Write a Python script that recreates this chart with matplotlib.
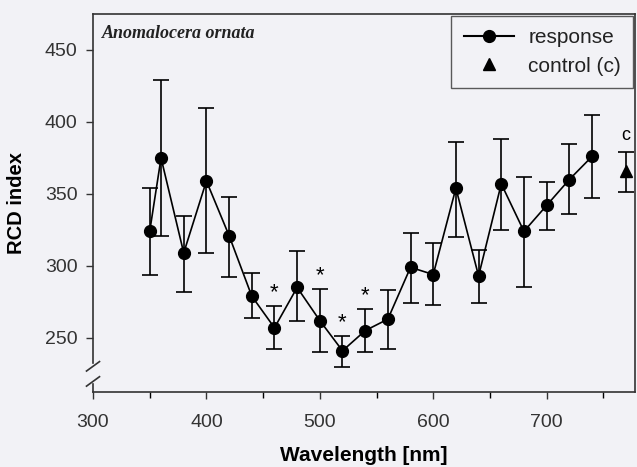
import numpy as np
import matplotlib
matplotlib.use('Agg')
import matplotlib.pyplot as plt
import matplotlib.ticker as ticker
from matplotlib.lines import Line2D

# response data
wavelength = [350, 360, 380, 400, 420, 440, 460, 480, 500, 520, 540,
              560, 580, 600, 620, 640, 660, 680, 700, 720, 740]
rcd = [324, 375, 309, 359, 321, 279, 257, 285, 262, 241, 255,
       263, 299, 294, 354, 293, 357, 324, 342, 360, 376]
err_hi = [354, 429, 335, 410, 348, 295, 272, 310, 284, 251, 270,
          283, 323, 316, 386, 311, 388, 362, 358, 385, 405]
err_lo = [294, 321, 282, 309, 292, 264, 242, 262, 240, 230, 240,
          242, 274, 273, 320, 274, 325, 285, 325, 336, 347]
signif = [460, 500, 520, 540]

ctrl_x = 770
ctrl_y = 366
ctrl_hi = 379
ctrl_lo = 351

plt.rcParams['font.family'] = ['Liberation Sans', 'DejaVu Sans']
bg = '#f2f2f6'
ink = '#222222'

fig = plt.figure(figsize=(6.37, 4.67), dpi=100, facecolor=bg)
ax = fig.add_axes([0.146, 0.161, 0.851, 0.809])
ax.set_facecolor(bg)

rcd = np.array(rcd)
yerr = [rcd - np.array(err_lo), np.array(err_hi) - rcd]
ax.errorbar(wavelength, rcd, yerr=yerr, fmt='-o', color='black',
            ms=8.5, lw=1.2, elinewidth=1.2, capsize=6, capthick=1.2)
ax.errorbar([ctrl_x], [ctrl_y], yerr=[[ctrl_y - ctrl_lo], [ctrl_hi - ctrl_y]],
            fmt='^', color='black', ms=8, elinewidth=1.2, capsize=6,
            capthick=1.2)
ax.text(ctrl_x, ctrl_hi + 6, 'c', ha='center', va='bottom', fontsize=13)

hi = dict(zip(wavelength, err_hi))
for w in signif:
    ax.text(w, hi[w] + 2, '*', ha='center', va='bottom', fontsize=16)

ax.set_xlim(300, 778)
ax.set_ylim(212.5, 475)
ax.set_xticks([300, 400, 500, 600, 700])
ax.xaxis.set_minor_locator(ticker.MultipleLocator(50))
ax.set_yticks([250, 300, 350, 400, 450])
ax.tick_params(labelsize=14, colors='#333333', length=5, width=1)
ax.tick_params(axis='x', which='minor', length=4, width=1)
ax.tick_params(axis='x', pad=11)
ax.tick_params(axis='y', pad=6)

ax.set_xlabel('Wavelength [nm]', fontsize=15, fontweight='bold', labelpad=11)
ax.set_ylabel('RCD index', fontsize=14.5, fontweight='bold', labelpad=14)

for s in ax.spines.values():
    s.set_linewidth(1.2)
    s.set_color('#333333')

# axis break on the y axis
ax.spines['left'].set_visible(False)
kw = dict(transform=ax.transAxes, color='#333333', lw=1.2, clip_on=False)
ax.plot([0, 0], [0.075, 1], **kw)
ax.plot([0, 0], [0, 0.02], **kw)
ax.plot([-0.012, 0.012], [0.055, 0.08], **kw)
ax.plot([-0.012, 0.012], [0.015, 0.04], **kw)

ax.text(0.017, 0.97, 'Anomalocera ornata', transform=ax.transAxes,
        fontsize=13, style='italic', fontweight='bold',
        family='Liberation Serif', va='top', color=ink)

handles = [Line2D([], [], color='black', marker='o', ms=8.5, lw=1.5),
           Line2D([], [], color='black', marker='^', ms=8, lw=0)]
leg = ax.legend(handles, ['response', 'control (c)'], loc='upper right',
                fontsize=15, frameon=True, fancybox=False,
                edgecolor='#333333', handlelength=2.4, borderpad=0.6,
                labelspacing=0.45, handletextpad=0.7, borderaxespad=0.0,
                bbox_to_anchor=(0.997, 0.995))
leg.get_frame().set_facecolor(bg)
leg.get_frame().set_linewidth(1.0)
for t in leg.get_texts():
    t.set_color(ink)

fig.savefig('out.png', dpi=100, facecolor=bg)
